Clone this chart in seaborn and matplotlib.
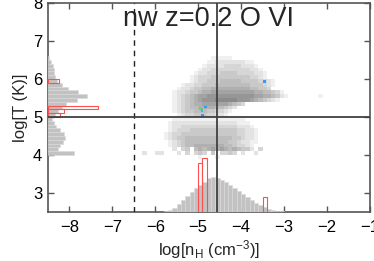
"""
Phase diagram (log n_H vs log T) for O VI at z=0.2, with side histograms
"""
import numpy as np
import matplotlib
matplotlib.use('Agg')
import matplotlib.pyplot as plt
from matplotlib.colors import ListedColormap
import seaborn as sns

sns.set_style('ticks')
plt.rcParams['font.family'] = ['Liberation Sans', 'DejaVu Sans']
plt.rcParams['mathtext.fontset'] = 'custom'
plt.rcParams['mathtext.rm'] = 'Liberation Sans'
plt.rcParams['mathtext.it'] = 'Liberation Sans'

# ---- 2D gas distribution, gray level 1..9 per 0.1 x 0.1 dex cell ('.' = empty)
# columns: log n_H from -6.4 to -2.1, rows: log T from 6.6 (top) down to 3.9
nh_lo, nh_hi = -6.4, -2.1
t_hi, t_lo = 6.6, 3.9
phase_rows = [
    ".................11111",
    "................11222222211",
    "...............1222233332221",
    "..............122333333333221",
    ".............12233344443333221",
    "............123334444444443321",
    "............12334445555544443321",
    "..........1223344455555555444321",
    ".........1223445566666666655443",
    "........12234456677777777776655431",
    "........123456778888888888877665421.......1",
    "........1234567888999998887654321",
    "........12345667777776543",
    "........123455666655432",
    "........12344555443321",
    ".........123344433221",
    "........11111111111111111",
    ".......1222222222222222111",
    ".......12233333333333332221",
    ".......123334444444444433221",
    "......1233444444444444433221",
    "......1234455555555555443221",
    ".......123455555555554432211",
    ".......12345566666665543321",
    "........2.34.56567676565442.3",
    ".2..22...2.3.343.4.3343.2..2",
    "..............1...1",
]

# ---- colored points (selected absorbers)
pt_nh = [-4.95, -4.91, -4.83, -4.90, -3.45]
pt_t = [5.23, 5.17, 5.26, 5.03, 5.93]
pt_col = ['#55dd66', '#22ccbb', '#3399ff', '#3399ff', '#3399ff']

# ---- n_H histogram (bottom), 0.1 dex bins starting at -5.8
nh_hist_start = -5.8
nh_counts = [1, 2, 4, 8, 12, 16, 20, 24, 27, 30, 34, 35, 34, 32,
             30, 27, 24, 21, 18, 15, 12, 9, 7, 5, 3, 2, 1, 1]
red_nh = [-4.95, -4.85, -3.45]
red_nh_counts = [49, 54, 15]

# ---- T histogram (left), 0.1 dex bins starting at 4.0
t_hist_start = 4.0
t_counts = [26, 10, 12, 15, 17, 16, 12, 8, 6, 4, 7, 10, 14, 18,
            29, 39, 30, 20, 14, 9, 7, 6, 6, 5, 3, 1]
red_t = [5.05, 5.15, 5.25, 5.95]
red_t_counts = [12, 16, 50, 11]

# reference lines
t_cut = 5.0
nh_cut = -4.55
nh_dash = -6.5

title = 'nw z=0.2 O VI'

# ------------------------------------------------------------------
levels = np.array([[0 if c == '.' else int(c) for c in r.ljust(43, '.')]
                   for r in phase_rows], dtype=float)
levels = np.ma.masked_equal(levels, 0)
nh_edges = np.linspace(nh_lo, nh_hi, levels.shape[1] + 1)
t_edges = np.linspace(t_hi, t_lo, levels.shape[0] + 1)
grays = [str(0.94 - 0.05 * k) for k in range(9)]
cmap = ListedColormap(grays)

line_c = '#404040'
fig = plt.figure(figsize=(3.74, 2.61), dpi=100)
ax = fig.add_axes([0.128, 0.188, 0.861, 0.8005])
ax.pcolormesh(nh_edges, t_edges, levels, cmap=cmap, vmin=0.5, vmax=9.5,
              shading='flat')
ax.scatter(pt_nh, pt_t, c=pt_col, s=4, marker='s', linewidths=0, zorder=3)

# bottom histogram on an overlay axis sharing x
ax_b = ax.twinx()
b_edges = [round(nh_hist_start + 0.1 * k, 2) for k in range(len(nh_counts) + 1)]
b_mid = [e + 0.05 for e in b_edges[:-1]]
sns.histplot(x=b_mid, weights=nh_counts, bins=b_edges, ax=ax_b,
             color='#c2c2c2', alpha=1, edgecolor='#dadada', linewidth=0.4)
ax_b.bar(red_nh, red_nh_counts, width=0.1, fill=False,
         edgecolor='#ff5050', linewidth=0.8)
ax_b.axvline(nh_cut, color=line_c, lw=1.3)
ax_b.axvline(nh_dash, color='#202020', lw=1.0, dashes=(4, 3.5))
ax_b.set_ylim(0, 209)
ax_b.set_axis_off()

# left histogram on an overlay axis sharing y
ax_l = ax.twiny()
l_edges = [round(t_hist_start + 0.1 * k, 2) for k in range(len(t_counts) + 1)]
l_mid = [e + 0.05 for e in l_edges[:-1]]
sns.histplot(y=l_mid, weights=t_counts, bins=l_edges, ax=ax_l,
             color='#c2c2c2', alpha=1, edgecolor='#dadada', linewidth=0.4)
ax_l.barh(red_t, red_t_counts, height=0.1, fill=False,
          edgecolor='#ff5050', linewidth=0.8)
ax_l.axhline(t_cut, color=line_c, lw=1.3)
ax_l.set_xlim(0, 322)
ax_l.set_axis_off()

ax.set_xlim(-8.5, -1)
ax.set_ylim(2.5, 8)
ax.set_xticks(range(-8, 0))
ax.set_yticks(range(3, 9))
ax.tick_params(direction='in', top=True, right=True, length=4, width=1,
               color='#555555', labelsize=12, labelcolor='black')
ax.tick_params(axis='x', pad=6)
ax.tick_params(axis='y', pad=4)
for s in ax.spines.values():
    s.set_color('#555555')
    s.set_linewidth(1.2)

ax.set_xlabel(r'log[n$_{\rm H}$ (cm$^{-3}$)]', fontsize=12, labelpad=2)
ax.set_ylabel('log[T (K)]', fontsize=12, labelpad=4)
ax.text(0.5, 0.89, title, transform=ax.transAxes, ha='center',
        va='baseline', fontsize=19.5)

fig.savefig('out.png', dpi=100)
